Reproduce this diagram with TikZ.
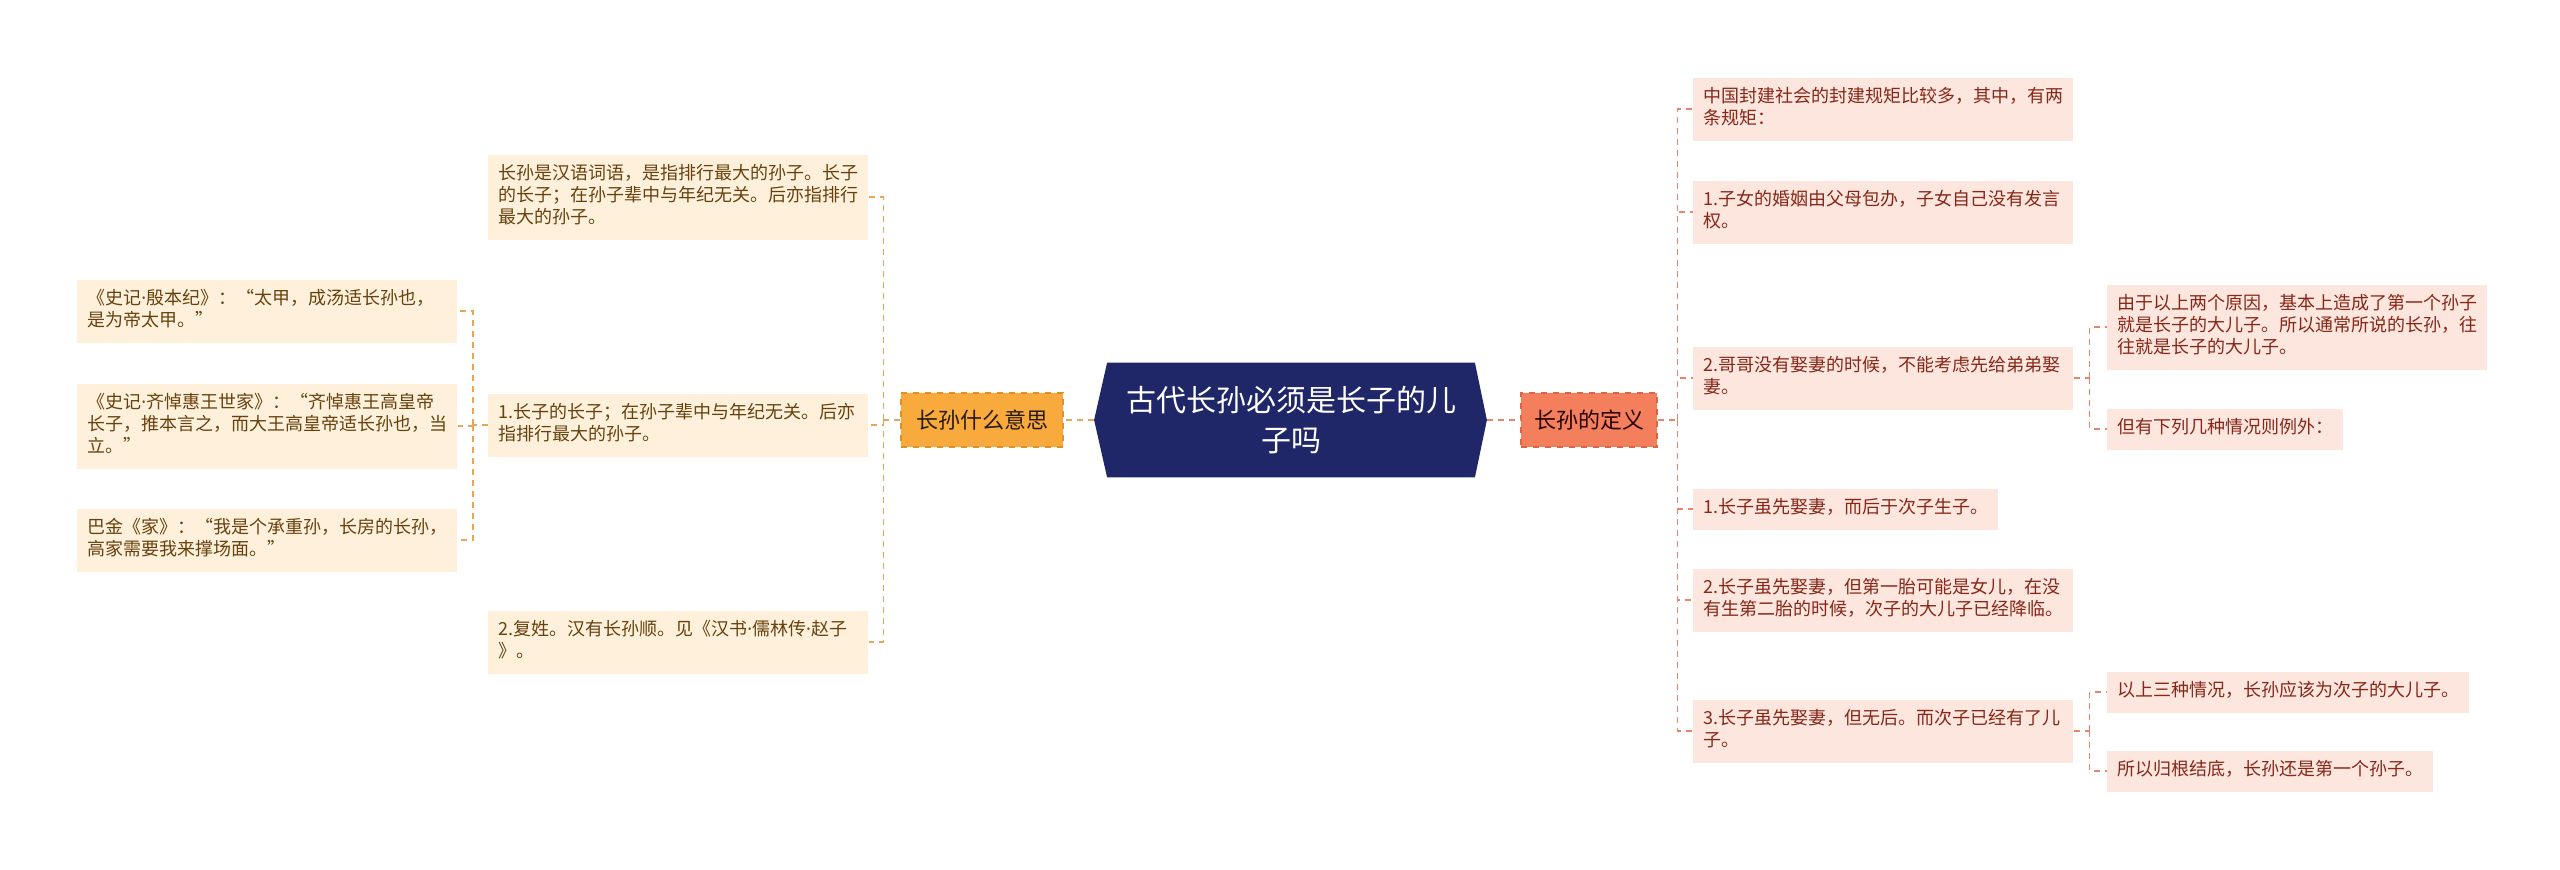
\documentclass[tikz,border=0pt]{standalone}
\usepackage{fontspec}
\setmainfont{Noto Sans CJK SC}
\newfontfamily\latinfont{Noto Sans}
\newcommand\mdot{{\latinfont ·}}
\usetikzlibrary{calc, backgrounds}

\definecolor{rootblue}{HTML}{1F2768}
\definecolor{lmainfill}{HTML}{F9AA3C}
\definecolor{lmainedge}{HTML}{E58F22}
\definecolor{rmainfill}{HTML}{F47F5D}
\definecolor{rmainedge}{HTML}{DD6342}
\definecolor{lleaffill}{HTML}{FEF0DA}
\definecolor{lleaftext}{HTML}{66420F}
\definecolor{rleaffill}{HTML}{FDE6DE}
\definecolor{rleaftext}{HTML}{862819}
\definecolor{lcon}{HTML}{E9A658}
\definecolor{rcon}{HTML}{E3866C}

\begin{document}
\begin{tikzpicture}[x=0.5pt, y=-0.5pt,
  leaf/.style={inner xsep=5pt, inner ysep=4.75pt, anchor=west, align=left,
    font=\fontsize{9pt}{11pt}\selectfont,
    execute at begin node=\strut, execute at end node=\strut},
  wide/.style={text width=180pt},
  lleaf/.style={leaf, fill=lleaffill, text=lleaftext},
  rleaf/.style={leaf, fill=rleaffill, text=rleaftext},
  branch/.style={minimum height=27pt, inner xsep=6.5pt, dashed, line width=0.6pt,
    font=\fontsize{11pt}{13pt}\selectfont},
  lline/.style={draw=lcon, line width=0.6pt, dash pattern=on 3pt off 2.5pt},
  rline/.style={draw=rcon, line width=0.6pt, dash pattern=on 3pt off 2.5pt}]
\useasboundingbox (0,0) rectangle (2560,869);

% Central topic
\node[text=white, minimum width=183.5pt, minimum height=57pt,
  inner sep=0pt, align=center, font=\fontsize{15pt}{20pt}\selectfont]
  (root) at (1291,420) {古代长孙必须是长子的儿\\子吗};
\begin{scope}[on background layer]
\fill[rootblue] (root.north west) -- (root.north east)
  -- ($(root.east)+(12,0)$) coordinate (rtip) -- (root.south east)
  -- (root.south west) -- ($(root.west)+(-13,0)$) coordinate (ltip) -- cycle;
\end{scope}

% Main branches
\node[branch, fill=lmainfill, draw=lmainedge, text=black!80!brown, minimum width=81pt]
  (lmain) at (982,420) {长孙什么意思};
\node[branch, fill=rmainfill, draw=rmainedge, text=black!85!red, minimum width=68pt]
  (rmain) at (1589,420) {长孙的定义};
\draw[lline] (ltip) -- (lmain.east);
\draw[rline] (rtip) -- (rmain.west);

% Left side
\node[lleaf, wide] (l1) at (488,197) {长孙是汉语词语，是指排行最大的孙子。长子\\的长子；在孙子辈中与年纪无关。后亦指排行\\最大的孙子。};
\node[lleaf, wide] (l2) at (488,425) {1.长子的长子；在孙子辈中与年纪无关。后亦\\指排行最大的孙子。};
\node[lleaf, wide] (l3) at (488,642) {2.复姓。汉有长孙顺。见《汉书\mdot 儒林传\mdot 赵子\\》。};
\node[lleaf, wide] (l2a) at (77,311) {《史记\mdot 殷本纪》：“太甲，成汤适长孙也，\\是为帝太甲。”};
\node[lleaf, wide] (l2b) at (77,426) {《史记\mdot 齐悼惠王世家》：“齐悼惠王高皇帝\\长子，推本言之，而大王高皇帝适长孙也，当\\立。”};
\node[lleaf, wide] (l2c) at (77,540) {巴金《家》：“我是个承重孙，长房的长孙，\\高家需要我来撑场面。”};

\draw[lline] (lmain.west) -- ++(-17,0) coordinate (lfork);
\foreach \n in {l1,l2,l3} \draw[lline] (lfork) |- (\n.east);
\draw[lline] (l2.west) -- ++(-15,0) coordinate (l2fork);
\foreach \n in {l2a,l2b,l2c} \draw[lline] (l2fork) |- (\n.east);

% Right side
\node[rleaf, wide] (r1) at (1693,109) {中国封建社会的封建规矩比较多，其中，有两\\条规矩：};
\node[rleaf, wide] (r2) at (1693,212) {1.子女的婚姻由父母包办，子女自己没有发言\\权。};
\node[rleaf, wide] (r3) at (1693,378) {2.哥哥没有娶妻的时候，不能考虑先给弟弟娶\\妻。};
\node[rleaf] (r4) at (1693,509) {1.长子虽先娶妻，而后于次子生子。};
\node[rleaf, wide] (r5) at (1693,600) {2.长子虽先娶妻，但第一胎可能是女儿，在没\\有生第二胎的时候，次子的大儿子已经降临。};
\node[rleaf, wide] (r6) at (1693,731) {3.长子虽先娶妻，但无后。而次子已经有了儿\\子。};
\node[rleaf, wide] (r3a) at (2107,327) {由于以上两个原因，基本上造成了第一个孙子\\就是长子的大儿子。所以通常所说的长孙，往\\往就是长子的大儿子。};
\node[rleaf] (r3b) at (2107,429) {但有下列几种情况则例外：};
\node[rleaf] (r6a) at (2107,692) {以上三种情况，长孙应该为次子的大儿子。};
\node[rleaf] (r6b) at (2107,771) {所以归根结底，长孙还是第一个孙子。};

\draw[rline] (rmain.east) -- ++(20,0) coordinate (rfork);
\foreach \n in {r1,r2,r3,r4,r5,r6} \draw[rline] (rfork) |- (\n.west);
\draw[rline] (r3.east) -- ++(16,0) coordinate (r3fork);
\foreach \n in {r3a,r3b} \draw[rline] (r3fork) |- (\n.west);
\draw[rline] (r6.east) -- ++(16,0) coordinate (r6fork);
\foreach \n in {r6a,r6b} \draw[rline] (r6fork) |- (\n.west);
\end{tikzpicture}
\end{document}
